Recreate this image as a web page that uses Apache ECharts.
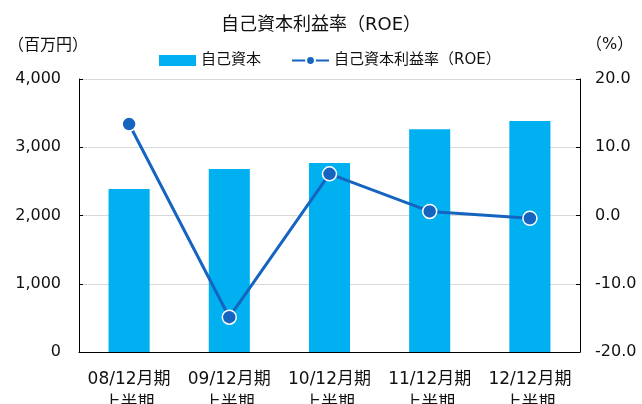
<!DOCTYPE html>
<html>
<head>
<meta charset="utf-8">
<script src="https://cdn.jsdelivr.net/npm/echarts@6/dist/echarts.min.js"></script>
<style>
  html, body { margin: 0; padding: 0; background: #fff; }
  #chart { width: 642px; height: 404px; }
</style>
</head>
<body>
<div id="chart"></div>
<script>
const categories = ['08/12月期\n上半期', '09/12月期\n上半期', '10/12月期\n上半期', '11/12月期\n上半期', '12/12月期\n上半期'];
const equity = [2390, 2680, 2770, 3265, 3385];   // 自己資本（百万円）
const roe = [13.4, -14.9, 6.1, 0.6, -0.4];       // ROE (%)

// 数字は DejaVu Sans、日本語は CJK フォントにフォールバック
const font = '"DejaVu Sans", "Noto Sans CJK JP", sans-serif';

const chart = echarts.init(document.getElementById('chart'));

chart.setOption({
  animation: false,
  textStyle: { fontFamily: font },
  title: {
    text: '自己資本利益率（ROE）',
    left: 'center',
    top: 11,
    textStyle: { fontSize: 18, fontWeight: 'normal', color: '#111', fontFamily: font }
  },
  legend: {
    top: 48,
    left: 154,
    itemGap: 30,
    itemWidth: 37,
    itemHeight: 11,
    textStyle: { fontSize: 15, color: '#111', fontFamily: font },
    data: [{ name: '自己資本', icon: 'rect' }, '自己資本利益率（ROE）']
  },
  graphic: [
    { type: 'text', left: 8, top: 38, style: { text: '（百万円）', fontSize: 16, fill: '#111', fontFamily: font } },
    { type: 'text', left: 586, top: 37, style: { text: '（%）', fontSize: 16, fill: '#111', fontFamily: font } }
  ],
  grid: { left: 79, right: 62, top: 79, bottom: 52, containLabel: false, outerBoundsMode: 'none' },
  xAxis: {
    type: 'category',
    data: categories,
    axisLine: { lineStyle: { color: '#000' } },
    axisTick: { inside: true, length: 4, lineStyle: { color: '#000' } },
    axisLabel: { interval: 0, hideOverlap: false, fontSize: 17, color: '#111', lineHeight: 24, margin: 16 }
  },
  yAxis: [
    {
      type: 'value',
      min: 0, max: 4000, interval: 1000,
      axisLine: { show: true, lineStyle: { color: '#000' } },
      axisTick: { show: true, inside: true, length: 4, lineStyle: { color: '#000' } },
      axisLabel: {
        fontSize: 16, color: '#111', margin: 18,
        formatter: v => v.toLocaleString('en-US')
      },
      splitLine: { lineStyle: { color: '#d9d9d9' } }
    },
    {
      type: 'value',
      min: -20, max: 20, interval: 10,
      axisLine: { show: true, lineStyle: { color: '#000' } },
      axisTick: { show: true, inside: true, length: 4, lineStyle: { color: '#000' } },
      axisLabel: { fontSize: 16, color: '#111', margin: 15, formatter: v => v.toFixed(1) },
      splitLine: { show: false }
    }
  ],
  series: [
    {
      name: '自己資本',
      type: 'bar',
      data: equity,
      barWidth: '41%',
      itemStyle: { color: '#00b0f0' }
    },
    {
      name: '自己資本利益率（ROE）',
      type: 'line',
      yAxisIndex: 1,
      data: roe,
      symbol: 'circle',
      symbolSize: 14,
      lineStyle: { color: '#1565c0', width: 3 },
      itemStyle: { color: '#1565c0', borderColor: '#fff', borderWidth: 1.5 }
    }
  ]
});
</script>
</body>
</html>
